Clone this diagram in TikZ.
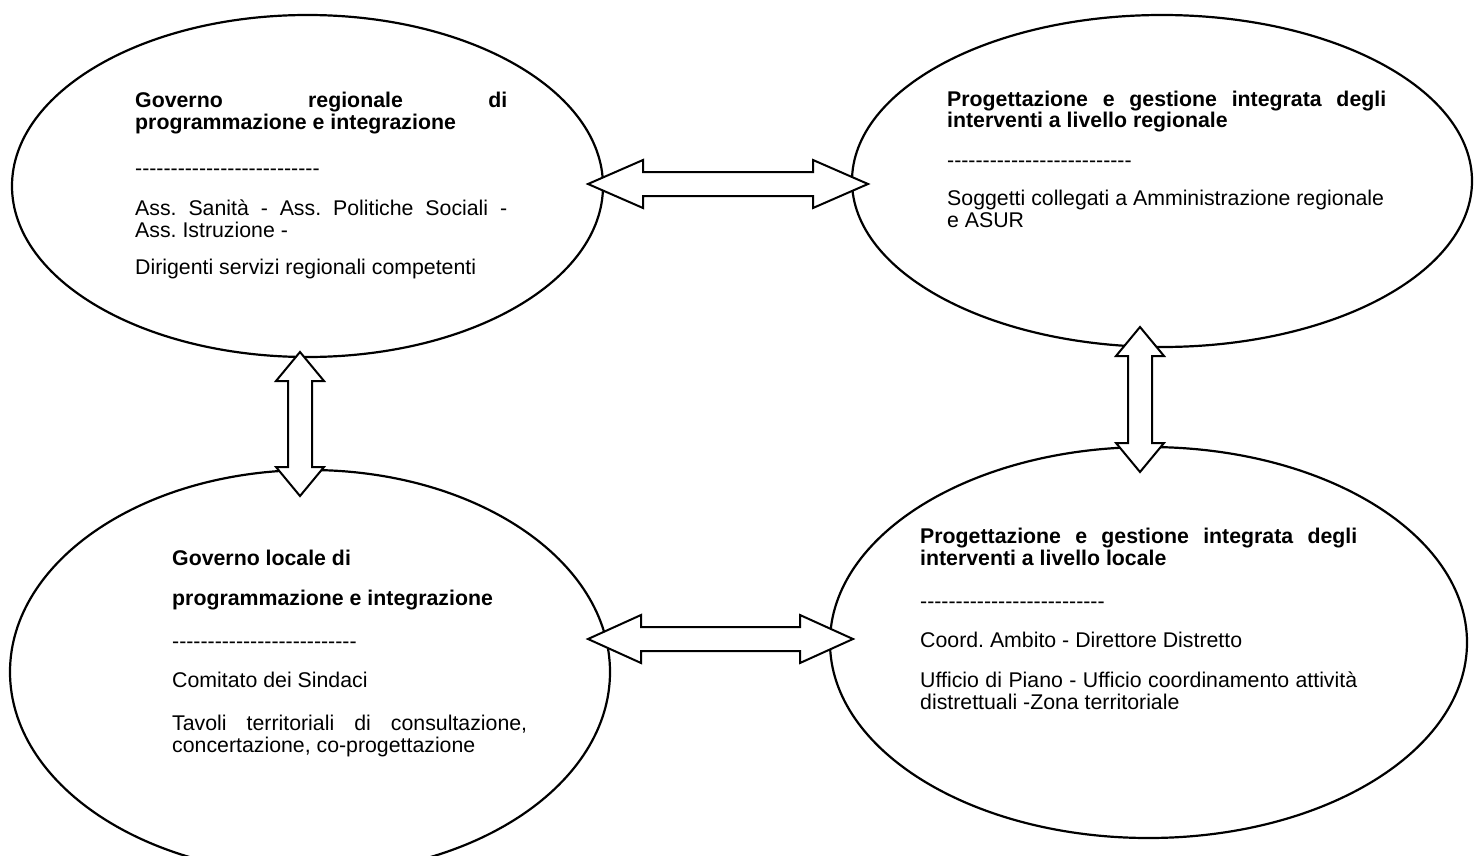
\documentclass[tikz,border=0pt]{standalone}
\usepackage{fontspec}
\setmainfont{Liberation Sans}
\usetikzlibrary{shapes.geometric,calc}
\frenchspacing
\newcommand\dashrow{\foreach \i in {1,...,26}{-\kern0pt}}
\tikzset{
  bubble/.style={ellipse, draw=black, line width=2.2pt, inner sep=0pt, fill=white},
  txt/.style={anchor=base west, inner sep=0pt, font=\fontsize{21.3}{22}\selectfont\frenchspacing},
  bigarrow/.style={draw=black, line width=2pt, fill=white, line join=miter},
}
\begin{document}
\begin{tikzpicture}[x=1pt,y=-1pt]
\useasboundingbox (0,0) rectangle (1474,856);
\clip (0,0) rectangle (1474,856);
% ellipses
\node[bubble, minimum width=591pt, minimum height=342pt] (tl) at (307.5,186) {};
\node[bubble, minimum width=620pt, minimum height=332pt] (tr) at (1162,181) {};
\node[bubble, minimum width=600pt, minimum height=404pt] (bl) at (310,672) {};
\node[bubble, minimum width=637pt, minimum height=391pt] (br) at (1148.5,642.5) {};
% arrow tips
\coordinate (h1a) at (588,184);
\coordinate (h1b) at (868,184);
\coordinate (h2a) at (588,639);
\coordinate (h2b) at (853,639);
\coordinate (v1a) at (300,352);
\coordinate (v1b) at (300,496);
\coordinate (v2a) at (1140,327);
\coordinate (v2b) at (1140,472);
% horizontal arrows
\draw[bigarrow] (h1a) -- ($(h1a)+(55,-24)$) -- ($(h1a)+(55,-12)$) -- ($(h1b)+(-55,-12)$) -- ($(h1b)+(-55,-24)$) -- (h1b)
  -- ($(h1b)+(-55,24)$) -- ($(h1b)+(-55,12)$) -- ($(h1a)+(55,12)$) -- ($(h1a)+(55,24)$) -- cycle;
\draw[bigarrow] (h2a) -- ($(h2a)+(53,-24)$) -- ($(h2a)+(53,-12)$) -- ($(h2b)+(-53,-12)$) -- ($(h2b)+(-53,-24)$) -- (h2b)
  -- ($(h2b)+(-53,24)$) -- ($(h2b)+(-53,12)$) -- ($(h2a)+(53,12)$) -- ($(h2a)+(53,24)$) -- cycle;
% vertical arrows
\draw[bigarrow] (v1a) -- ($(v1a)+(24,29)$) -- ($(v1a)+(12,29)$) -- ($(v1b)+(12,-29)$) -- ($(v1b)+(24,-29)$) -- (v1b)
  -- ($(v1b)+(-24,-29)$) -- ($(v1b)+(-12,-29)$) -- ($(v1a)+(-12,29)$) -- ($(v1a)+(-24,29)$) -- cycle;
\draw[bigarrow] (v2a) -- ($(v2a)+(24,29)$) -- ($(v2a)+(12,29)$) -- ($(v2b)+(12,-29)$) -- ($(v2b)+(24,-29)$) -- (v2b)
  -- ($(v2b)+(-24,-29)$) -- ($(v2b)+(-12,-29)$) -- ($(v2a)+(-12,29)$) -- ($(v2a)+(-24,29)$) -- cycle;
% top-left text
\node[txt] (tl1) at (135,108) {\bfseries\makebox[372pt][s]{Governo regionale di}};
\node[txt] (tl2) at (135,129) {\bfseries programmazione e integrazione};
\node[txt] (tl3) at (135,175) {\dashrow};
\node[txt] (tl4) at (135,215) {\makebox[372pt][s]{Ass. Sanità - Ass. Politiche Sociali -}};
\node[txt] (tl5) at (135,237) {Ass. Istruzione -};
\node[txt] (tl6) at (135,274) {Dirigenti servizi regionali competenti};
% top-right text
\node[txt] (tr1) at (947,107) {\bfseries\makebox[439pt][s]{Progettazione e gestione integrata degli}};
\node[txt] (tr2) at (947,128) {\bfseries interventi a livello regionale};
\node[txt] (tr3) at (947,167) {\dashrow};
\node[txt] (tr4) at (947,205) {Soggetti collegati a Amministrazione regionale};
\node[txt] (tr5) at (947,227) {e ASUR};
% bottom-left text
\node[txt] (bl1) at (172,565) {\bfseries Governo locale di};
\node[txt] (bl2) at (172,605) {\bfseries programmazione e integrazione};
\node[txt] (bl3) at (172,648) {\dashrow};
\node[txt] (bl4) at (172,687) {Comitato dei Sindaci};
\node[txt] (bl5) at (172,730) {\makebox[355pt][s]{Tavoli territoriali di consultazione,}};
\node[txt] (bl6) at (172,752) {concertazione, co-progettazione};
% bottom-right text
\node[txt] (br1) at (920,543) {\bfseries\makebox[437pt][s]{Progettazione e gestione integrata degli}};
\node[txt] (br2) at (920,565) {\bfseries interventi a livello locale};
\node[txt] (br3) at (920,608) {\dashrow};
\node[txt] (br4) at (920,647) {Coord. Ambito - Direttore Distretto};
\node[txt] (br5) at (920,687) {\makebox[437pt][s]{Ufficio di Piano - Ufficio coordinamento attività}};
\node[txt] (br6) at (920,709) {distrettuali -Zona territoriale};
\end{tikzpicture}
\end{document}
